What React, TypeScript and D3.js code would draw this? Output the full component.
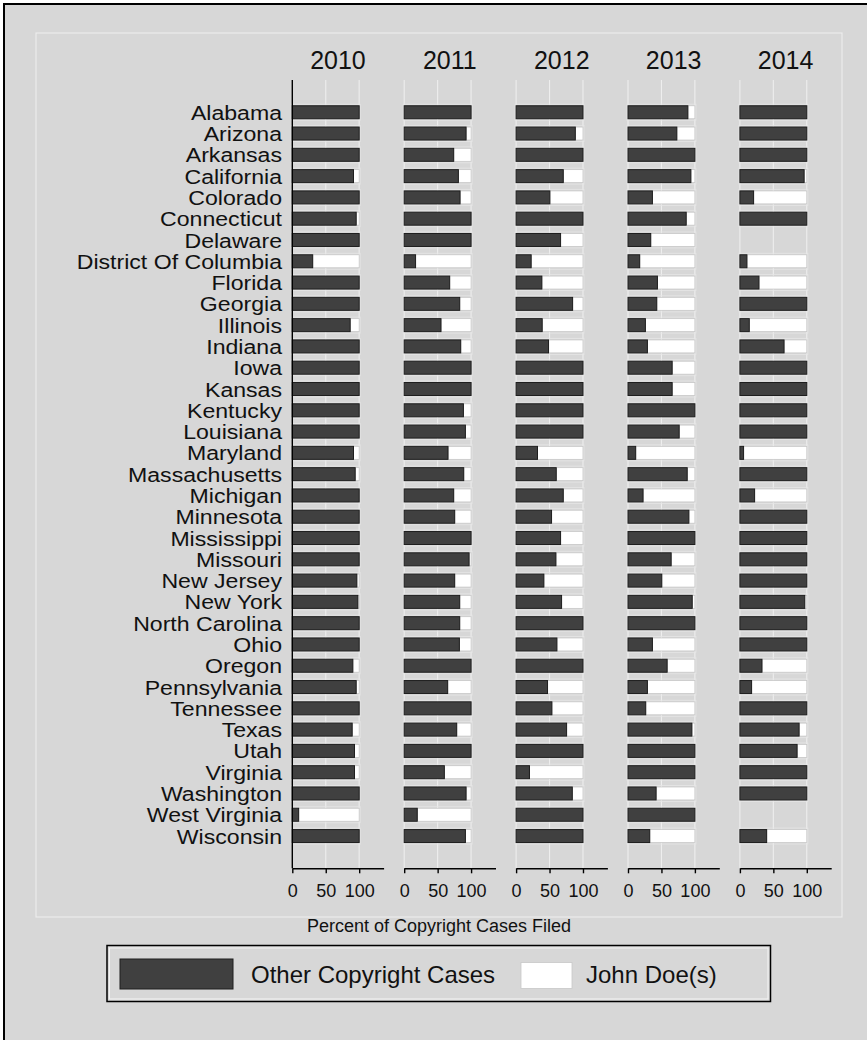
import React, { useEffect, useRef } from 'react'
import * as d3 from 'd3'

const STATES = [
  'Alabama', 'Arizona', 'Arkansas', 'California', 'Colorado', 'Connecticut', 'Delaware',
  'District Of Columbia', 'Florida', 'Georgia', 'Illinois', 'Indiana', 'Iowa', 'Kansas',
  'Kentucky', 'Louisiana', 'Maryland', 'Massachusetts', 'Michigan', 'Minnesota',
  'Mississippi', 'Missouri', 'New Jersey', 'New York', 'North Carolina', 'Ohio', 'Oregon',
  'Pennsylvania', 'Tennessee', 'Texas', 'Utah', 'Virginia', 'Washington', 'West Virginia',
  'Wisconsin',
]
const YEARS = ['2010', '2011', '2012', '2013', '2014']

// share of "other copyright cases" per state, the rest is John Doe(s); null = no cases
const OTHER_2010 = [100, 100, 100, 91.5, 100, 95.5, 100, 30.5, 100, 100, 86.5, 100, 100, 100, 100, 100, 91.5,
  94, 100, 100, 100, 100, 96.5, 98, 100, 100, 90.5, 95.5, 100, 89.5, 93, 93, 100, 9.5, 100]
const OTHER_2011 = [100, 92.5, 74, 81, 83.5, 100, 100, 17, 68, 83, 55, 84.5, 100, 100, 88.5, 91.5, 65.5,
  89, 74, 75.5, 100, 97, 75.5, 83, 83, 82.5, 100, 65, 100, 78.5, 100, 60, 92.5, 19.5, 91.5]
const OTHER_2012 = [100, 88.5, 100, 70.5, 50.5, 100, 66.5, 22.5, 38.5, 84.5, 39, 48.5, 100, 100, 100, 100, 32,
  60, 70.5, 53, 66.5, 59.5, 41.5, 68, 100, 61, 100, 47, 53.5, 75.5, 100, 20, 84, 100, 100]
const OTHER_2013 = [89.5, 73, 100, 94, 36.5, 87, 34, 17.5, 44, 43, 26, 29, 66, 66, 100, 76.5, 11.5,
  88.5, 22.5, 91, 100, 64.5, 50.5, 96, 100, 36.5, 58.5, 29, 26.5, 95.5, 100, 100, 42, 100, 32.5]
const OTHER_2014 = [100, 100, 100, 96, 20.5, 100, null, 10.5, 28.5, 100, 14, 66, 100, 100, 100, 100, 5.5,
  100, 22, 100, 100, 100, 100, 97, 100, 100, 33, 17.5, 100, 88.5, 85.5, 100, 100, null, 40]
const SERIES = [OTHER_2010, OTHER_2011, OTHER_2012, OTHER_2013, OTHER_2014]

const X_TICKS = [0, 50, 100]
const LEGEND = ['Other Copyright Cases', 'John Doe(s)']
const X_TITLE = 'Percent of Copyright Cases Filed'

const W = 867
const H = 1040
const FONT = '"Liberation Sans", Arial, Helvetica, sans-serif'
const BG = '#d7d7d7'
const DARK = '#404040'
const GRID = '#eeeeee'
const PLOT_TOP = 80
const PLOT_BOTTOM = 868.3
const PANEL_X0 = 292.3
const PANEL_STEP = 111.9
const PANEL_W = 91.3
const LABEL_X = 282

const yScale = d3.scaleBand<string>()
  .domain(STATES)
  .range([PLOT_TOP, PLOT_BOTTOM])
  .paddingInner(0.39)
  .paddingOuter(1.21)

function XAxis({ scale }: { scale: d3.ScaleLinear<number, number> }) {
  const ref = useRef<SVGGElement>(null)
  useEffect(() => {
    const g = d3.select(ref.current!)
    g.call(d3.axisBottom(scale).tickValues(X_TICKS).tickSize(5).tickSizeOuter(0).tickPadding(11).tickFormat(d3.format('d')) as any)
    g.attr('font-family', FONT).attr('font-size', 18)
    g.selectAll('path.domain').attr('stroke', '#000').attr('stroke-width', 1.4)
    g.selectAll('.tick line').attr('stroke', '#000').attr('stroke-width', 1.4)
    g.selectAll('.tick text').attr('fill', '#111')
  }, [scale])
  return <g ref={ref} transform={`translate(0,${PLOT_BOTTOM})`} />
}

function Panel({ idx }: { idx: number }) {
  const x0 = PANEL_X0 + idx * PANEL_STEP
  const x = d3.scaleLinear().domain([0, 136.5]).range([x0, x0 + PANEL_W])
  const values = SERIES[idx]
  const bh = yScale.bandwidth()
  return (
    <g>
      <text x={x0 + PANEL_W / 2} y={69} textAnchor="middle" fontSize={25} fontFamily={FONT} fill="#111">
        {YEARS[idx]}
      </text>
      {X_TICKS.map(t => (idx === 0 && t === 0) ? null : (
        <line key={t} x1={x(t)} x2={x(t)} y1={PLOT_TOP} y2={PLOT_BOTTOM} stroke={GRID} strokeWidth={1.1} />
      ))}
      {STATES.map((s, i) => {
        const v = values[i]
        if (v == null) return null
        const y = yScale(s)!
        return (
          <g key={s}>
            <rect x={x(0) - 1} y={y - 1.5} width={x(100) - x(0) + 2} height={bh + 3} fill="none" stroke="#e6e6e6" strokeWidth={1} opacity={0.8} />
            {v < 100 && (
              <rect x={x(v)} y={y} width={x(100) - x(v)} height={bh} fill="#ffffff" stroke="#c8c8c8" strokeWidth={0.8} />
            )}
            <rect x={x(0)} y={y} width={x(v) - x(0)} height={bh} fill={DARK} stroke="#1e1e1e" strokeWidth={1} />
          </g>
        )
      })}
      {idx === 0 && (
        <line x1={x(0)} x2={x(0)} y1={PLOT_TOP} y2={PLOT_BOTTOM} stroke="#000" strokeWidth={1.4} />
      )}
      <XAxis scale={x} />
    </g>
  )
}

export default function App() {
  useEffect(() => {
    document.body.style.margin = '0'
  }, [])
  return (
    <div style={{ position: 'absolute', left: 0, top: 0 }}>
      <svg width={W} height={H} style={{ display: 'block' }}>
        <rect x={0} y={0} width={W} height={H} fill="#ffffff" />
        <rect x={4} y={4} width={W + 20} height={H + 20} fill={BG} stroke="#000" strokeWidth={2} />
        <rect x={36} y={33} width={806} height={884} fill="none" stroke="#ececec" strokeWidth={1.2} />

        {/* state names: slightly wide glyphs, as in the source */}
        <g transform={`translate(${LABEL_X},0) scale(1.1,1)`}>
          {STATES.map(s => (
            <text key={s} x={0} y={yScale(s)! + yScale.bandwidth() / 2} dy="0.36em" textAnchor="end"
              fontSize={21} fontFamily={FONT} fill="#111">
              {s}
            </text>
          ))}
        </g>

        {YEARS.map((yr, i) => <Panel key={yr} idx={i} />)}

        <text x={439} y={931.5} textAnchor="middle" fontSize={18} fontFamily={FONT} fill="#111">{X_TITLE}</text>

        <g>
          <rect x={107} y={945.5} width={663.5} height={56} fill="none" stroke="#000" strokeWidth={1.5} />
          <rect x={109.5} y={948} width={658.5} height={51} fill="none" stroke="#f4f4f4" strokeWidth={1} />
          <rect x={120} y={959} width={113} height={30} fill={DARK} stroke="#1e1e1e" strokeWidth={1} />
          <text x={251} y={983} fontSize={24} fontFamily={FONT} fill="#111">{LEGEND[0]}</text>
          <rect x={521} y={962.5} width={51} height={26} fill="#ffffff" stroke="#c8c8c8" strokeWidth={0.8} />
          <text x={586} y={983} fontSize={24} fontFamily={FONT} fill="#111">{LEGEND[1]}</text>
        </g>
      </svg>
    </div>
  )
}
